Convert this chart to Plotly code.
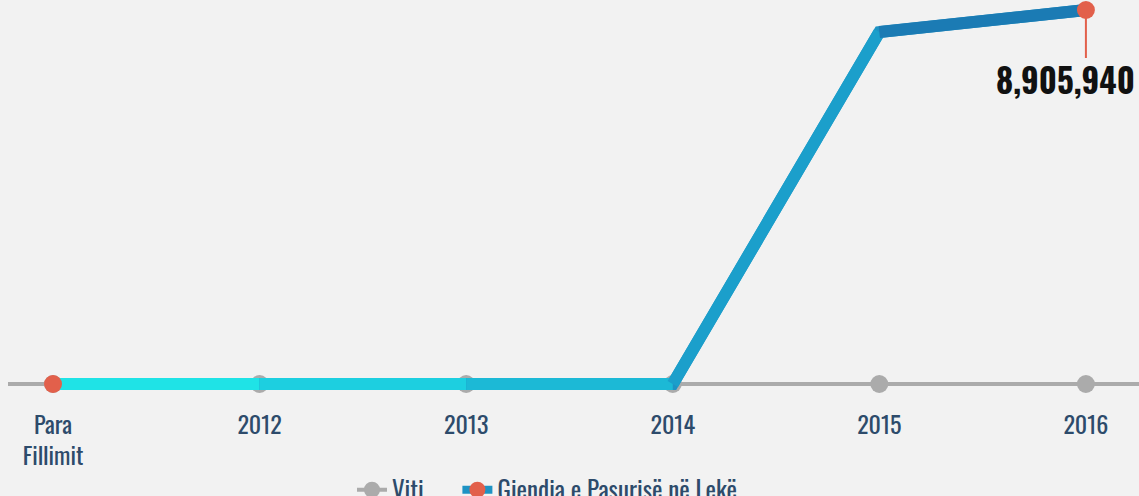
import plotly.graph_objects as go

categories = ["Para<br>Fillimit", "2012", "2013", "2014", "2015", "2016"]
viti_values = [0, 0, 0, 0, 0, 0]
wealth_values = [0, 0, 0, 0, 8380000, 8905940]
segment_colors = ["#1fe3e6", "#1dcfe0", "#1cb9d6", "#1b9fcb", "#1b7bb4"]

FONT = "Oswald, 'Liberation Sans Narrow', 'Arial Narrow', 'DejaVu Sans Condensed', sans-serif"
TEXT = "#2d4b6b"
GRAY = "#ababab"
RED = "#e2604b"
BG = "#f2f2f2"
x = list(range(len(categories)))

fig = go.Figure()
fig.add_trace(go.Scatter(
    x=x, y=viti_values, name="Viti" + "\u00a0" * 5, mode="lines+markers",
    line=dict(color=GRAY, width=4), marker=dict(color=GRAY, size=18),
    cliponaxis=False))
# legend-only entry for the wealth series
fig.add_trace(go.Scatter(
    x=[None], y=[None], name="Gjendja e Pasurisë në Lekë", mode="lines+markers",
    line=dict(color="#1e93c4", width=8), marker=dict(color=RED, size=18)))
fig.add_trace(go.Scatter(
    x=x, y=wealth_values, mode="lines", showlegend=False,
    line=dict(color="#1e93c4", width=12), cliponaxis=False))
for i, c in enumerate(segment_colors):
    fig.add_trace(go.Scatter(
        x=x[i:i + 2], y=wealth_values[i:i + 2], mode="lines",
        line=dict(color=c, width=12), showlegend=False, hoverinfo="skip",
        cliponaxis=False))
fig.add_trace(go.Scatter(
    x=[x[0], x[-1]], y=[wealth_values[0], wealth_values[-1]], mode="markers",
    marker=dict(color=RED, size=18), showlegend=False, cliponaxis=False))

fig.add_annotation(x=x[-1], y=wealth_values[-1], text=" ", showarrow=True,
                   ax=0, ay=50, arrowhead=0, arrowwidth=2, arrowcolor=RED,
                   font=dict(size=2), borderpad=0)
fig.add_annotation(x=x[-1], y=wealth_values[-1], text=f"<b>{wealth_values[-1]:,}</b>",
                   showarrow=False, xanchor="center", yanchor="middle",
                   xshift=-20, yshift=-69, font=dict(family=FONT, size=33, color="#111111"))

fig.update_layout(
    width=1139, height=496,
    margin=dict(l=8, r=0, t=0, b=96, autoexpand=False),
    paper_bgcolor=BG, plot_bgcolor=BG,
    font=dict(family=FONT, color=TEXT),
    xaxis=dict(tickmode="array", tickvals=x, ticktext=categories, automargin=False,
               range=[-0.218, 5.257], showgrid=False, zeroline=False,
               showline=False, ticks="outside", ticklen=4, tickcolor="rgba(0,0,0,0)",
               tickfont=dict(size=24, color=TEXT)),
    yaxis=dict(range=[-381000, 9144000], showgrid=False, zeroline=True, automargin=False,
               zerolinecolor=GRAY, zerolinewidth=4, showticklabels=False),
    legend=dict(orientation="h", x=0.477, xanchor="center", y=-0.225, yanchor="middle",
                font=dict(size=25, color=TEXT), bgcolor="rgba(0,0,0,0)"),
    showlegend=True,
)
fig.write_html("out.html", config={"displayModeBar": False},
               post_script="document.body.style.margin='0';"
                           "document.body.style.background='#f2f2f2';"
                           "document.body.style.overflow='hidden';")
